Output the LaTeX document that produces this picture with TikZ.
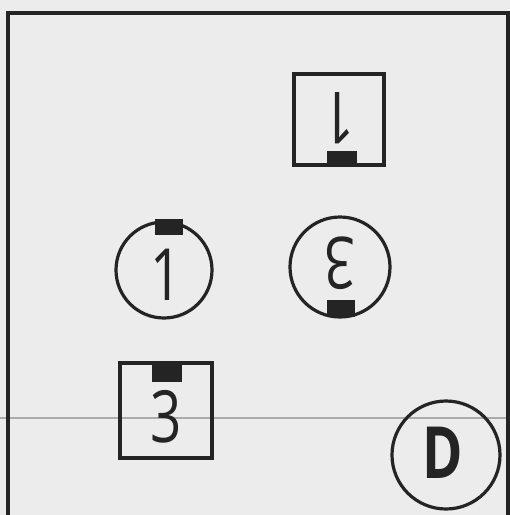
\documentclass[tikz,border=0pt]{standalone}
\usepackage{fontspec}
\setmainfont{Open Sans}
\definecolor{paper}{HTML}{ECECEC}
\definecolor{ink}{HTML}{242424}
\definecolor{seam}{HTML}{ABABAB}
\begin{document}
\begin{tikzpicture}[x=1pt,y=-1pt,
    wall/.style={draw=ink,line width=3.2pt},
    tab/.style={fill=ink},
    tag/.style={font=\fontsize{72}{72}\selectfont,text=ink,inner sep=0pt,xscale=0.76}]
    \fill[paper] (0,0) rectangle (510,515);
    \useasboundingbox (0,0) rectangle (510,515);
    \draw[seam,line width=1.6pt] (0,418) -- (510,418);
    \draw[wall] (8,515) -- (8,13) -- (508,13) -- (508,515);
    % box 1, turned round
    \draw[wall] (294,74) rectangle (384,165);
    \fill[tab] (327,151) rectangle (357,165);
    \node[tag,rotate=180] (boxone) at (339,118) {1};
    % circle 1
    \draw[wall] (164,270) circle (48pt);
    \fill[tab] (155,219) rectangle (183,235);
    \node[tag] (ringone) at (166,275) {1};
    % circle 3, turned round
    \draw[wall] (340,267) circle (50pt);
    \fill[tab] (327,300) rectangle (355,317);
    \node[tag,rotate=180] (ringthree) at (340,263) {3};
    % box 3
    \draw[wall] (120,363) rectangle (212,458);
    \fill[tab] (152,363) rectangle (182,382);
    \node[tag] (boxthree) at (166,417) {3};
    % door
    \draw[wall] (446,455) circle (54pt);
    \node[tag,font=\fontsize{72}{72}\selectfont\bfseries] (door) at (443,453) {D};
\end{tikzpicture}
\end{document}
